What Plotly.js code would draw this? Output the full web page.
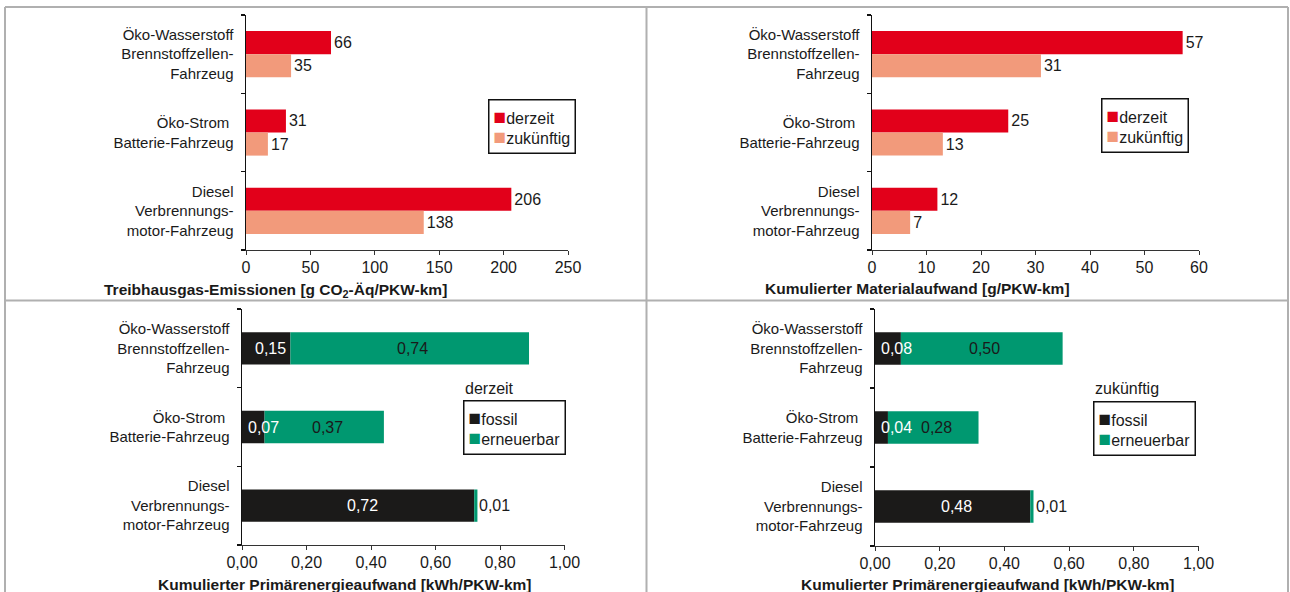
<!DOCTYPE html>
<html>
<head>
<meta charset="utf-8">
<script src="https://cdn.plot.ly/plotly-3.0.1.min.js"></script>
<style>html,body{margin:0;padding:0;background:#fff;}</style>
</head>
<body>
<div id="chart" style="width:1290px;height:592px;"></div>
<script>
// ---- data ----
const categories = ['Öko-Wasserstoff<br>Brennstoffzellen-<br>Fahrzeug', 'Öko-Strom\u00a0<br>Batterie-Fahrzeug', 'Diesel<br>Verbrennungs-<br>motor-Fahrzeug'];
const seriesNames = ['derzeit', 'zukünftig'];
const energyNames = ['fossil', 'erneuerbar'];
const ghgNow = [66, 31, 206];
const ghgFuture = [35, 17, 138];
const matNow = [57, 25, 12];
const matFuture = [31, 13, 7];
const energyNowFossil = [0.15, 0.07, 0.72];
const energyNowRenew = [0.74, 0.37, 0.01];
const energyFutFossil = [0.08, 0.04, 0.48];
const energyFutRenew = [0.50, 0.28, 0.01];
const axisTitles = ['Treibhausgas-Emissionen [g CO<sub>2</sub>-Äq/PKW-km]', 'Kumulierter Materialaufwand [g/PKW-km]', 'Kumulierter Primärenergieaufwand [kWh/PKW-km]', 'Kumulierter Primärenergieaufwand [kWh/PKW-km]'];

// ---- styles ----
const W = 1290, H = 592;
const RED = '#e2001a', SALMON = '#f29a7b', BLACK = '#1b1a19', GREEN = '#009870', TXT = '#1a1a1a';
const FONT = 'Liberation Sans, Arial, sans-serif';
const NUM = 16;
const px = v => v / W;
const py = v => 1 - v / H;
const fmt = v => v.toFixed(2).replace('.', ',');

const traces = [];
function groupTraces(now, fut, xa, ya) {
  [[now, RED, seriesNames[0]], [fut, SALMON, seriesNames[1]]].forEach(([vals, col, name]) => {
    traces.push({
      type: 'bar', orientation: 'h', name: name, x: vals, y: [0, 1, 2],
      xaxis: xa, yaxis: ya, marker: {color: col, line: {width: 0}},
      text: vals.map(String), textposition: 'outside', constraintext: 'none',
      textfont: {size: NUM, color: TXT, family: FONT}, cliponaxis: false, hoverinfo: 'x'
    });
  });
}
groupTraces(ghgNow, ghgFuture, 'x', 'y');
groupTraces(matNow, matFuture, 'x2', 'y2');

const annotations = [];
function stackTraces(fos, ren, xa, ya) {
  traces.push({
    type: 'bar', orientation: 'h', name: energyNames[0], x: fos, y: [0, 1, 2], base: 0,
    width: 0.41, offset: -0.205, xaxis: xa, yaxis: ya, marker: {color: BLACK, line: {width: 0}}, hoverinfo: 'x'
  });
  traces.push({
    type: 'bar', orientation: 'h', name: energyNames[1], x: ren, y: [0, 1, 2], base: fos,
    width: 0.41, offset: -0.205, xaxis: xa, yaxis: ya, marker: {color: GREEN, line: {width: 0}}, hoverinfo: 'x'
  });
  fos.forEach((v, i) => {
    const small = v < 0.1;
    annotations.push({xref: xa, yref: ya, x: small ? 0 : v / 2, y: i, xanchor: small ? 'left' : 'center',
      xshift: 4, yanchor: 'middle', showarrow: false, text: fmt(v), font: {size: NUM, color: '#ffffff', family: FONT}});
  });
  ren.forEach((v, i) => {
    const small = v < 0.05;
    annotations.push({xref: xa, yref: ya, x: small ? fos[i] + v : fos[i] + v / 2, y: i, xanchor: small ? 'left' : 'center',
      xshift: small ? 0 : 3, yanchor: 'middle', showarrow: false, text: fmt(v), font: {size: NUM, color: TXT, family: FONT}});
  });
}
stackTraces(energyNowFossil, energyNowRenew, 'x3', 'y3');
stackTraces(energyFutFossil, energyFutRenew, 'x4', 'y4');

function xAxis(dom, anchor, range, dtick, fmtStr) {
  return {domain: dom, anchor: anchor, range: range, dtick: dtick, tick0: 0, tickformat: fmtStr,
    ticks: 'outside', ticklen: 4, tickwidth: 1, tickcolor: '#333', showline: true, linecolor: '#333', linewidth: 1.3,
    showgrid: false, zeroline: false, tickfont: {size: NUM, color: TXT}, ticklabelstandoff: -2, automargin: false, fixedrange: true};
}
function yAxis(dom, anchor) {
  return {domain: dom, anchor: anchor, type: 'category', range: [2.5, -0.5], tickvals: [0, 1, 2], ticktext: categories,
    tickson: 'boundaries', ticks: 'outside', ticklen: 4, tickwidth: 1.3, tickcolor: '#111', showline: true, linecolor: '#111', linewidth: 1.5,
    showgrid: false, zeroline: false, tickfont: {size: 15, color: TXT}, ticklabelstandoff: 8, automargin: false, fixedrange: true};
}

// axis titles
[[275, 290], [917, 288], [344.5, 584], [987, 584]].forEach(([cx, cy], i) => {
  annotations.push({xref: 'paper', yref: 'paper', x: px(cx), y: py(cy), xanchor: 'center', yanchor: 'middle', showarrow: false,
    text: '<b>' + axisTitles[i] + '</b>', font: {size: 15.5, color: TXT, family: FONT}});
});

// legends
function legendBox(left, top, names, cols, title, titleY) {
  const txt = names.map((n, i) => '<span style="color:' + cols[i] + ';font-size:21px">■</span>' + n).join('<br>');
  annotations.push({xref: 'paper', yref: 'paper', x: px(left), y: py(top), xanchor: 'left', yanchor: 'top', showarrow: false,
    align: 'left', text: txt, bordercolor: '#111', borderwidth: 1.5, borderpad: 4, bgcolor: '#fff',
    font: {size: 16, color: TXT, family: FONT}});
  if (title) {
    annotations.push({xref: 'paper', yref: 'paper', x: px(left), y: py(titleY), xanchor: 'left', yanchor: 'middle', showarrow: false,
      text: title, font: {size: 16, color: TXT, family: FONT}});
  }
}
legendBox(488, 99, seriesNames, [RED, SALMON]);
legendBox(1100.5, 98, seriesNames, [RED, SALMON]);
legendBox(463, 400, energyNames, [BLACK, GREEN], seriesNames[0], 388);
legendBox(1093, 401, energyNames, [BLACK, GREEN], seriesNames[1], 388);

// frame lines
const FR = '#b0b0b0';
const shapes = [
  {x0: px(5), x1: px(1288), y0: py(7), y1: py(7)},
  {x0: px(5), x1: px(5), y0: py(7), y1: -0.02},
  {x0: px(1288), x1: px(1288), y0: py(7), y1: -0.02},
  {x0: px(646.5), x1: px(646.5), y0: py(7), y1: -0.02},
  {x0: px(5), x1: px(1288), y0: py(300.5), y1: py(300.5)}
].map(s => Object.assign({type: 'line', xref: 'paper', yref: 'paper', line: {color: FR, width: 2}, layer: 'below'}, s));

const layout = {
  width: W, height: H, margin: {l: 0, r: 0, t: 0, b: 0}, paper_bgcolor: '#fff', plot_bgcolor: 'rgba(0,0,0,0)',
  barmode: 'group', bargap: 0.41, bargroupgap: 0, separators: ',.', showlegend: false,
  font: {family: FONT, size: 15, color: TXT},
  xaxis: xAxis([px(246), px(568)], 'y', [0, 250], 50),
  yaxis: yAxis([py(250), py(15)], 'x'),
  xaxis2: xAxis([px(872), px(1199)], 'y2', [0, 60], 10),
  yaxis2: yAxis([py(250), py(15)], 'x2'),
  xaxis3: xAxis([px(242), px(564.5)], 'y3', [0, 1], 0.2, '.2f'),
  yaxis3: yAxis([py(545), py(309)], 'x3'),
  xaxis4: xAxis([px(875), px(1198.5)], 'y4', [0, 1], 0.2, '.2f'),
  yaxis4: yAxis([py(546), py(309)], 'x4'),
  annotations: annotations, shapes: shapes
};

Plotly.newPlot('chart', traces, layout, {staticPlot: true, displayModeBar: false});
</script>
</body>
</html>
